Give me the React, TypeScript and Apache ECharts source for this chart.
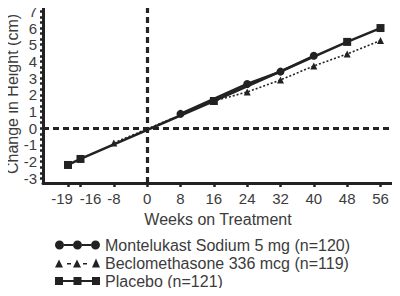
import React, { useEffect, useRef } from "react";
import * as echarts from "echarts";

const weeks = [-19, -16, -8, 0, 8, 16, 24, 32, 40, 48, 56];
const montelukast: (number | null)[] = [null, null, null, null, 0.86, null, 2.65, 3.39, 4.34, null, null];
const beclomethasone: (number | null)[] = [null, null, -0.88, null, null, 1.63, 2.17, 2.89, 3.73, 4.45, 5.25];
const placebo: (number | null)[] = [-2.2, -1.84, null, null, null, 1.63, null, null, null, 5.17, 6.0];
const yTickLabels = [-3, -2, -1, 0, 1, 2, 3, 4, 5, 6, 7];

const names = [
  "Montelukast Sodium 5 mg (n=120)",
  "Beclomethasone 336 mcg (n=119)",
  "Placebo (n=121)",
];

const iconCircles =
  "path://M0,4.5 A4.5,4.5 0 1,1 9,4.5 A4.5,4.5 0 1,1 0,4.5 Z M18,4.5 A4.5,4.5 0 1,1 27,4.5 A4.5,4.5 0 1,1 18,4.5 Z M36,4.5 A4.5,4.5 0 1,1 45,4.5 A4.5,4.5 0 1,1 36,4.5 Z M9,3.5 H18 V5.5 H9 Z M27,3.5 H36 V5.5 H27 Z";
const iconTriangles =
  "path://M0,9 L4,1 L8,9 Z M12,4.5 H16 V6 H12 Z M18,9 L22,1 L26,9 Z M28,4.5 H32 V6 H28 Z M37,9 L41,0 L45,9 Z";
const iconSquares =
  "path://M0,0.5 H8 V8.5 H0 Z M8,3.5 H18.5 V5.5 H8 Z M18.5,0.5 H26.5 V8.5 H18.5 Z M26.5,3.5 H37 V5.5 H26.5 Z M37,0.5 H45 V8.5 H37 Z";

const toPairs = (arr: (number | null)[]) =>
  weeks.map((w, i) => [w, arr[i]]).filter((p) => p[1] !== null);

const ink = "#222222";
const textColor = "#3c3c3c";
const font = "Liberation Sans, Arial, sans-serif";

export default function App() {
  const ref = useRef<HTMLDivElement>(null);
  useEffect(() => {
    if (!ref.current) return;
    const chart = echarts.init(ref.current, undefined, { renderer: "svg" });
    const yMinor: number[] = [];
    for (let k = -9; k <= 21; k++) yMinor.push(k / 3);
    const lbl = { fontSize: 15, color: textColor, fontFamily: font };
    chart.setOption({
      animation: false,
      textStyle: { fontFamily: font },
      grid: { left: 43, right: 7, top: 5, bottom: 113, containLabel: false, outerBoundsMode: "none" },
      xAxis: {
        type: "value",
        min: -25,
        max: 59,
        name: "Weeks on Treatment",
        nameLocation: "middle",
        nameGap: 28,
        nameMoveOverlap: false,
        nameTextStyle: { fontSize: 16, color: textColor, fontFamily: font },
        axisLine: { show: true, onZero: false, lineStyle: { color: ink, width: 3 } },
        axisTick: { show: true, customValues: weeks, length: 4, lineStyle: { color: ink, width: 2.5 } },
        axisLabel: {
          customValues: weeks,
          hideOverlap: false,
          showMinLabel: true,
          showMaxLabel: true,
          margin: 8,
          ...lbl,
          formatter: (v: number) => (v === -19 ? `{l|${v}}` : v === -16 ? `{r|${v}}` : `{n|${v}}`),
          rich: {
            l: { ...lbl, padding: [0, 12, 0, 0] },
            r: { ...lbl, padding: [0, 0, 0, 20] },
            n: { ...lbl },
          },
        },
        splitLine: { show: false },
      },
      yAxis: {
        type: "value",
        min: -3.28,
        max: 7.38,
        name: "Change in Height (cm)",
        nameLocation: "middle",
        nameGap: 23,
        nameMoveOverlap: false,
        nameRotate: 90,
        nameTextStyle: { fontSize: 16, color: textColor, fontFamily: font },
        axisLine: { show: true, onZero: false, lineStyle: { color: ink, width: 3 } },
        axisTick: { show: true, customValues: yMinor, length: 3, lineStyle: { color: ink, width: 2.5 } },
        axisLabel: { customValues: yTickLabels, hideOverlap: false, margin: 6, ...lbl },
        splitLine: { show: false },
      },
      legend: {
        orient: "vertical",
        left: 55,
        top: 237,
        height: 80,
        padding: 0,
        itemWidth: 45,
        itemHeight: 9,
        itemGap: 2,
        itemStyle: { borderWidth: 0 },
        textStyle: { fontSize: 16, color: textColor, lineHeight: 16, fontFamily: font },
        data: [
          { name: names[0], icon: iconCircles },
          { name: names[1], icon: iconTriangles },
          { name: names[2], icon: iconSquares },
        ],
      },
      series: [
        {
          name: names[1],
          type: "line",
          data: toPairs(beclomethasone),
          symbol: "triangle",
          symbolSize: 7,
          itemStyle: { color: ink },
          lineStyle: { color: ink, width: 1.6, type: [2, 2] },
          z: 2,
          markLine: {
            silent: true,
            symbol: "none",
            label: { show: false },
            lineStyle: { color: ink, width: 3.2, type: [6, 4] },
            data: [{ xAxis: 0 }, { yAxis: 0 }],
          },
        },
        {
          name: names[0],
          type: "line",
          data: toPairs(montelukast),
          symbol: "circle",
          symbolSize: 8,
          itemStyle: { color: ink },
          lineStyle: { color: ink, width: 2.5 },
          z: 3,
        },
        {
          name: names[2],
          type: "line",
          data: toPairs(placebo),
          symbol: "rect",
          symbolSize: 8,
          itemStyle: { color: ink },
          lineStyle: { color: ink, width: 2.5 },
          z: 4,
        },
      ],
    });
    return () => chart.dispose();
  }, []);
  return <div ref={ref} style={{ width: 400, height: 296, margin: -8 }} />;
}
